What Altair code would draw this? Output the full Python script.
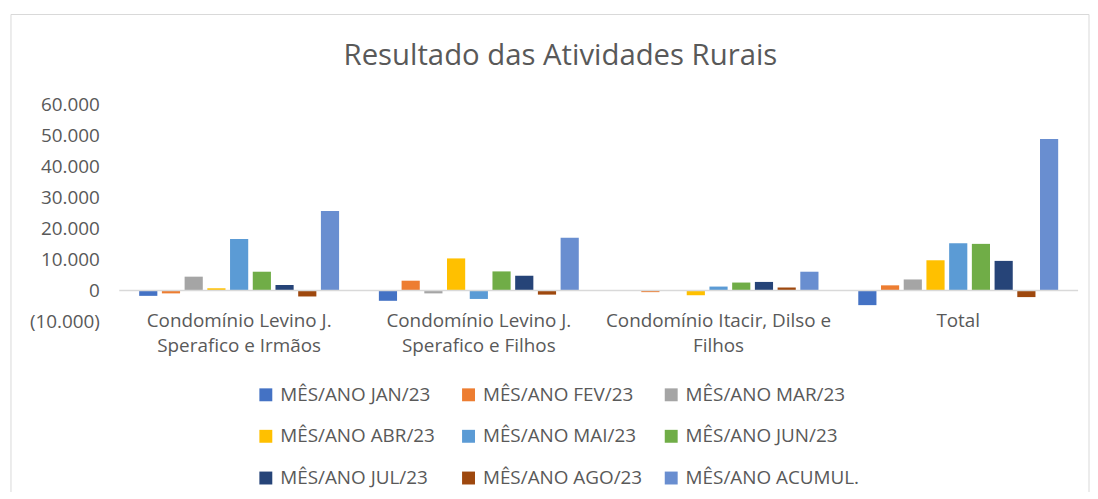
import altair as alt
import pandas as pd

TITLE = "Resultado das Atividades Rurais"
CATEGORIES = [
    "Condomínio Levino J.|Sperafico e Irmãos",
    "Condomínio Levino J.|Sperafico e Filhos",
    "Condomínio Itacir, Dilso e|Filhos",
    "Total",
]
SERIES = [
    "MÊS/ANO JAN/23", "MÊS/ANO FEV/23", "MÊS/ANO MAR/23",
    "MÊS/ANO ABR/23", "MÊS/ANO MAI/23", "MÊS/ANO JUN/23",
    "MÊS/ANO JUL/23", "MÊS/ANO AGO/23", "MÊS/ANO ACUMUL.",
]
JAN = [-1700, -3300, 0, -4700]
FEV = [-900, 3200, -500, 1700]
MAR = [4500, -900, 0, 3600]
ABR = [750, 10400, -1500, 9800]
MAI = [16700, -2700, 1300, 15300]
JUN = [6100, 6200, 2600, 15100]
JUL = [1800, 4800, 2800, 9600]
AGO = [-1900, -1300, 1000, -2100]
ACUMUL = [25700, 17100, 6100, 49000]
VALUES = [JAN, FEV, MAR, ABR, MAI, JUN, JUL, AGO, ACUMUL]
COLORS = ["#4472C4", "#ED7D31", "#A5A5A5", "#FFC000", "#5B9BD5",
          "#70AD47", "#264478", "#9E480E", "#698ED0"]
Y_TICKS = [-10000, 0, 10000, 20000, 30000, 40000, 50000, 60000]

rows = []
for s, vals in zip(SERIES, VALUES):
    for c, v in zip(CATEGORIES, vals):
        rows.append({"categoria": c, "serie": s, "valor": v})
df = pd.DataFrame(rows)

TXT = "#595959"
FONT = "Open Sans"
FS = 19

y_expr = ("datum.value < 0 ? '(' + replace(format(-datum.value, ',.0f'), ',', '.') + ')' "
          ": replace(format(datum.value, ',.0f'), ',', '.') + '\u00a0'")

y_axis = alt.Axis(title=None, values=Y_TICKS, labelExpr=y_expr, domain=False,
                  ticks=False, grid=False, labelFontSize=FS, labelColor=TXT,
                  labelFont=FONT, labelPadding=20, labelOverlap=False,
                  labelFlush=False)
y_scale = alt.Scale(domain=[-10000, 60000], nice=False)

border = alt.Chart(pd.DataFrame({"k": [0]})).mark_rect(
    fill=None, stroke="#d9d9d9", strokeWidth=1
).encode(x=alt.value(-109), x2=alt.value(976), y=alt.value(-91), y2=alt.value(420))

title = alt.Chart(pd.DataFrame({"t": [TITLE]})).mark_text(
    font=FONT, fontSize=29.5, color=TXT, align="center", baseline="middle"
).encode(text="t:N", x=alt.value(444), y=alt.value(-49))

bars = alt.Chart(df).mark_bar().encode(
    x=alt.X(
        "categoria:N", sort=CATEGORIES,
        scale=alt.Scale(paddingInner=0.166, paddingOuter=0.083),
        axis=alt.Axis(title=None, labelExpr="split(datum.label, '|')", labelAngle=0,
                      domain=False, ticks=False, labelFontSize=FS, labelColor=TXT,
                      labelFont=FONT, labelPadding=-10, labelLineHeight=25.5,
                      labelLimit=400),
    ),
    xOffset=alt.XOffset("serie:N", sort=SERIES, scale=alt.Scale(paddingInner=0.2)),
    y=alt.Y("valor:Q", scale=y_scale, axis=y_axis),
    color=alt.Color(
        "serie:N", sort=SERIES,
        scale=alt.Scale(domain=SERIES, range=COLORS),
        legend=alt.Legend(
            title=None, orient="none", legendX=138, legendY=282, direction="horizontal",
            columns=3, gridAlign="all", symbolType="square", symbolSize=169,
            symbolStrokeWidth=0, labelFontSize=FS, labelFont=FONT, labelColor=TXT,
            columnPadding=5, rowPadding=22, padding=0, labelOffset=5, labelLimit=400,
        ),
    ),
)

zero = alt.Chart(pd.DataFrame({"v": [0]})).mark_rule(
    color="#d9d9d9", strokeWidth=1.5
).encode(y=alt.Y("v:Q", scale=y_scale, axis=y_axis))

chart = alt.layer(border, title, bars, zero).properties(
    width=965, height=218,
    autosize=alt.AutoSizeParams(type="none"),
    padding={"left": 112, "top": 96, "right": 12, "bottom": 170},
    background="white",
).configure_view(strokeWidth=0).configure_axis(labelOverlap=False)

chart.save("out.html", embed_options={"renderer": "svg", "actions": False})
